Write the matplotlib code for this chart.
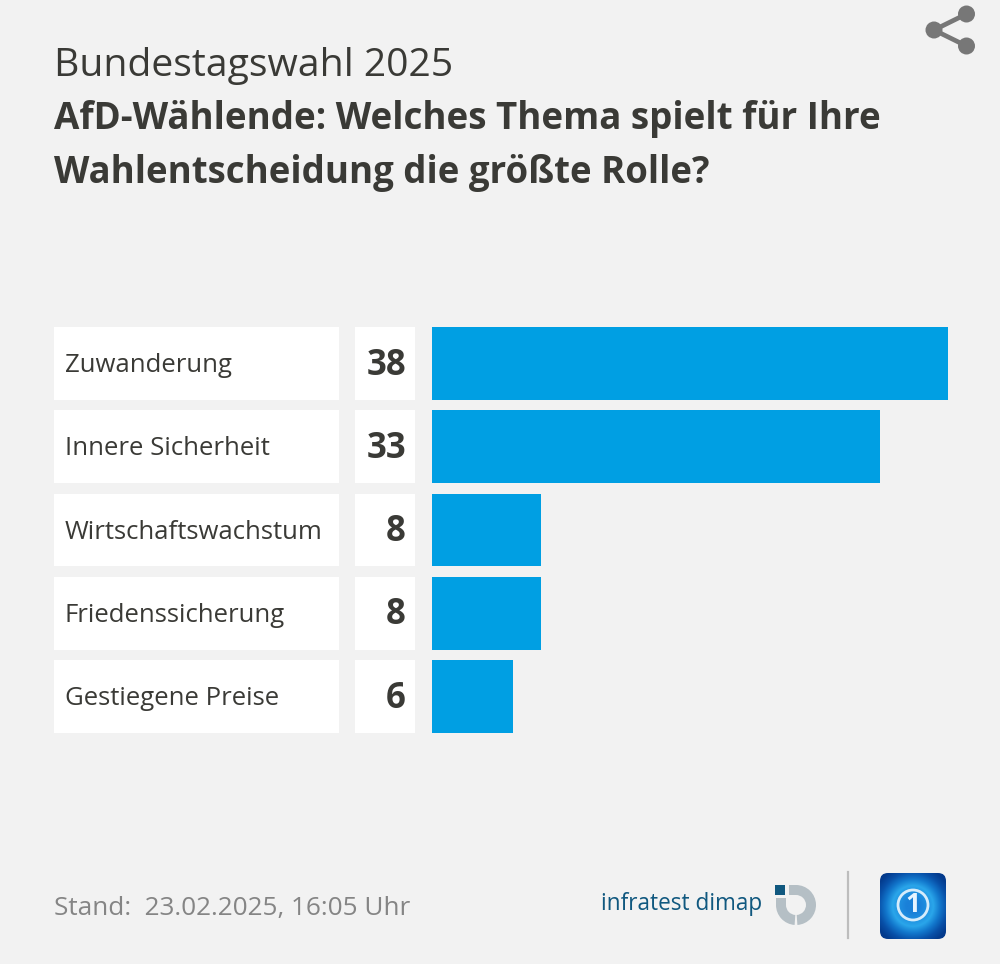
import matplotlib

matplotlib.use("Agg")

import matplotlib.pyplot as plt
import numpy as np
from matplotlib.colors import LinearSegmentedColormap
from matplotlib.patches import Circle, FancyBboxPatch, Rectangle, Wedge

categories = ["Zuwanderung", "Innere Sicherheit", "Wirtschaftswachstum", "Friedenssicherung", "Gestiegene Preise"]
values = [38, 33, 8, 8, 6]

title_top = "Bundestagswahl 2025"
title_lines = ["AfD-Wählende: Welches Thema spielt für Ihre", "Wahlentscheidung die größte Rolle?"]
footer = "Stand:  23.02.2025, 16:05 Uhr"

_BG_COLOR = "#f2f2f2"
_TEXT_COLOR = "#3a3a36"
_BAR_COLOR = "#009fe3"
_GREY = "#858585"
_DIMAP_BLUE = "#10587f"
_DIMAP_GREY = "#b5bfc5"
_FONT = "Open Sans"

W, H = 1000, 964
BAR_H = 0.876

plt.rcParams["font.family"] = [_FONT, "DejaVu Sans"]

fig = plt.figure(figsize=(W / 100, H / 100), dpi=100)
fig.patch.set_facecolor(_BG_COLOR)


def px_axes(left, right, top=327, bottom=733):
    ax = fig.add_axes([left / W, 1 - bottom / H, (right - left) / W, (bottom - top) / H])
    ax.set_ylim(len(categories) - 1 + BAR_H / 2, -BAR_H / 2)
    ax.axis("off")
    return ax


y = np.arange(len(categories))

# label column
ax_lab = px_axes(54, 339)
ax_lab.set_xlim(0, 1)
ax_lab.barh(y, [1] * len(y), height=BAR_H, color="white")
for i, cat in enumerate(categories):
    ax_lab.text(0.037, i + 0.025, cat, fontsize=18.5, color=_TEXT_COLOR, va="center", ha="left")

# value column
ax_val = px_axes(355, 415)
ax_val.set_xlim(0, 1)
ax_val.barh(y, [1] * len(y), height=BAR_H, color="white")
for i, v in enumerate(values):
    ax_val.text(0.85, i + 0.025, str(v), fontsize=25, fontweight="bold", color=_TEXT_COLOR, va="center", ha="right")

# bars
ax = px_axes(432, 948)
ax.set_xlim(0, max(values))
ax.barh(y, values, height=BAR_H, color=_BAR_COLOR)

# everything else in pixel coordinates
ov = fig.add_axes([0, 0, 1, 1], zorder=5)
ov.patch.set_alpha(0)
ov.axis("off")

ov.text(54, 76, title_top, fontsize=28.2, color=_TEXT_COLOR, va="baseline")
ov.text(54, 129, title_lines[0], fontsize=26.5, fontweight="bold", color=_TEXT_COLOR, va="baseline")
ov.text(54, 183, title_lines[1], fontsize=26.4, fontweight="bold", color=_TEXT_COLOR, va="baseline")
ov.text(54, 915, footer, fontsize=18.85, color=_GREY, va="baseline")

# share icon
ov.plot([966.5, 934, 966.5], [14, 30, 46], color="#777777", lw=3.4, solid_capstyle="round")
for cx, cy, r in [(934, 30, 8.5), (966.5, 14, 8.5), (966.5, 46, 8.5)]:
    ov.add_patch(Circle((cx, cy), r, color="#777777", lw=0))

# infratest dimap logo
ov.text(601, 910, "infratest dimap", fontsize=16.3, color=_DIMAP_BLUE, va="baseline")
ov.add_patch(Wedge((796, 905), 20, -90, 86, width=10, color=_DIMAP_GREY, lw=0))
ov.add_patch(Rectangle((789, 885), 7.5, 10, color=_DIMAP_GREY, lw=0))
ov.add_patch(Wedge((796, 905), 20, 94, 180, width=10, color=_DIMAP_GREY, lw=0))
ov.add_patch(Rectangle((776, 898), 10, 7, color=_DIMAP_GREY, lw=0))
ov.add_patch(Rectangle((775, 885), 10, 10, color=_DIMAP_BLUE, lw=0))

ov.plot([848, 848], [872, 938], color="#bdbdbd", lw=1.6)

# tagesschau icon
xx, yy = np.meshgrid(np.linspace(-1, 1, 200), np.linspace(-1, 1, 200))
rr = np.hypot(xx, yy)
cmap = LinearSegmentedColormap.from_list(
    "tile", ["#1a80d8", "#1f8fe0", "#2aa6ea", "#1277cc", "#0850a8", "#033a8c"]
)
img = ov.imshow(rr, extent=(880, 946, 939, 873), cmap=cmap, vmin=0.2, vmax=1.25, aspect="auto", zorder=2)
clip = FancyBboxPatch((880, 873), 66, 66, boxstyle="round,pad=0,rounding_size=8", lw=0, fc="none", transform=ov.transData)
ov.add_patch(clip)
img.set_clip_path(clip)
ov.add_patch(Circle((913, 905), 15, fc="none", ec="#d6ecfb", lw=2.0, zorder=3))
ov.text(913, 905, "1", fontsize=19, fontweight="bold", color="#e6f4ff", ha="center", va="center", zorder=4)

ov.set_xlim(0, W)
ov.set_ylim(H, 0)

fig.savefig("out.png", dpi=100, facecolor=_BG_COLOR)
plt.close(fig)
